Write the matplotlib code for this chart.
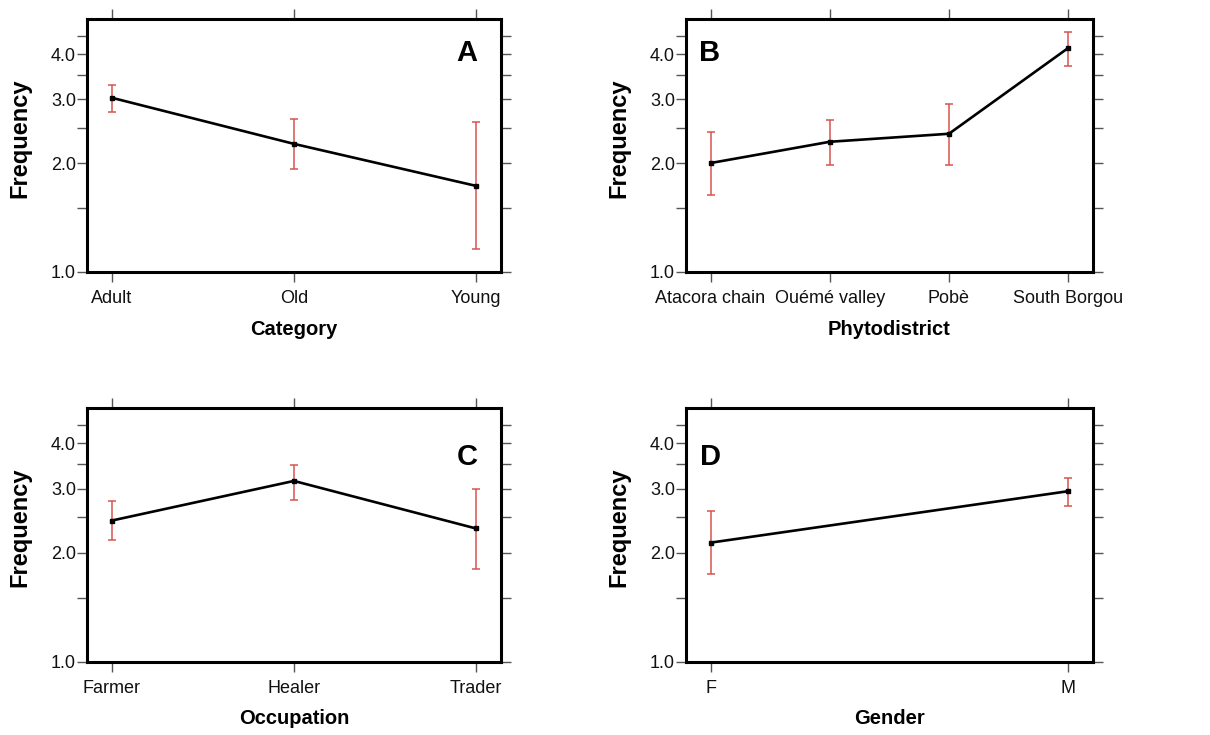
import numpy as np
import matplotlib
matplotlib.use('Agg')
from matplotlib import pyplot as plt
from matplotlib.ticker import FixedLocator, NullFormatter, FixedFormatter

plt.rcParams['font.family'] = ['Liberation Sans', 'DejaVu Sans']

# panel A - category
cat_labels = ['Adult', 'Old', 'Young']
cat_mean = [3.03, 2.26, 1.73]
cat_low = [2.76, 1.93, 1.16]
cat_high = [3.29, 2.64, 2.59]

# panel B - phytodistrict
phy_labels = ['Atacora chain', 'Ouémé valley', 'Pobè', 'South Borgou']
phy_mean = [2.00, 2.29, 2.41, 4.16]
phy_low = [1.63, 1.97, 1.98, 3.70]
phy_high = [2.44, 2.63, 2.92, 4.62]

# panel C - occupation
occ_labels = ['Farmer', 'Healer', 'Trader']
occ_mean = [2.45, 3.15, 2.33]
occ_low = [2.16, 2.79, 1.80]
occ_high = [2.78, 3.48, 2.99]

# panel D - gender
gen_labels = ['F', 'M']
gen_mean = [2.13, 2.95]
gen_low = [1.74, 2.68]
gen_high = [2.61, 3.21]

ymajor = [1.0, 2.0, 3.0, 4.0]
yminor = [1.5, 2.5, 3.5, 4.5]

fig = plt.figure(figsize=(12.1, 7.35), dpi=100)

panels = [
    ('A', cat_labels, cat_mean, cat_low, cat_high, 'Category', [0.0719, 0.630, 0.342, 0.344], 0.137, (0.918, 0.866)),
    ('B', phy_labels, phy_mean, phy_low, phy_high, 'Phytodistrict', [0.567, 0.630, 0.336, 0.344], 0.205, (0.059, 0.866)),
    ('C', occ_labels, occ_mean, occ_low, occ_high, 'Occupation', [0.0719, 0.0997, 0.342, 0.345], 0.137, (0.918, 0.809)),
    ('D', gen_labels, gen_mean, gen_low, gen_high, 'Gender', [0.567, 0.0997, 0.336, 0.345], 0.07, (0.059, 0.809)),
]

for letter, labels, mean, low, high, xlabel, pos, margin, lpos in panels:
    ax = fig.add_axes(pos)
    x = np.arange(len(labels))
    mean = np.array(mean)
    yerr = [mean - np.array(low), np.array(high) - mean]
    ax.errorbar(x, mean, yerr=yerr, fmt='none', ecolor='#d9534f',
                elinewidth=1.1, capsize=3, capthick=1.1, zorder=2)
    ax.plot(x, mean, color='black', linewidth=1.9, marker='s',
            markersize=3, zorder=3)

    ax.set_yscale('log')
    ax.set_ylim(1.0, 5.0)
    ax.set_xlim(-margin, len(labels) - 1 + margin)
    ax.yaxis.set_major_locator(FixedLocator(ymajor))
    ax.yaxis.set_major_formatter(FixedFormatter(['%.1f' % v for v in ymajor]))
    ax.yaxis.set_minor_locator(FixedLocator(yminor))
    ax.yaxis.set_minor_formatter(NullFormatter())
    ax.set_xticks(x)
    ax.set_xticklabels(labels)

    ax.tick_params(axis='both', which='both', direction='out', length=7,
                   width=1, color='#555555', labelsize=13, labelcolor='#111111',
                   top=True, right=True)
    ax.tick_params(axis='x', pad=6)
    ax.tick_params(axis='y', pad=1)
    for sp in ax.spines.values():
        sp.set_linewidth(2.2)
        sp.set_color('black')

    ax.set_xlabel(xlabel, fontsize=14.5, fontweight='bold', labelpad=9)
    ax.set_ylabel('Frequency', fontsize=17, fontweight='bold', labelpad=14)
    ax.yaxis.label.set_y(0.53)
    ax.text(lpos[0], lpos[1], letter, transform=ax.transAxes, fontsize=21,
            fontweight='bold', ha='center', va='center')

fig.savefig('out.png', dpi=100)
